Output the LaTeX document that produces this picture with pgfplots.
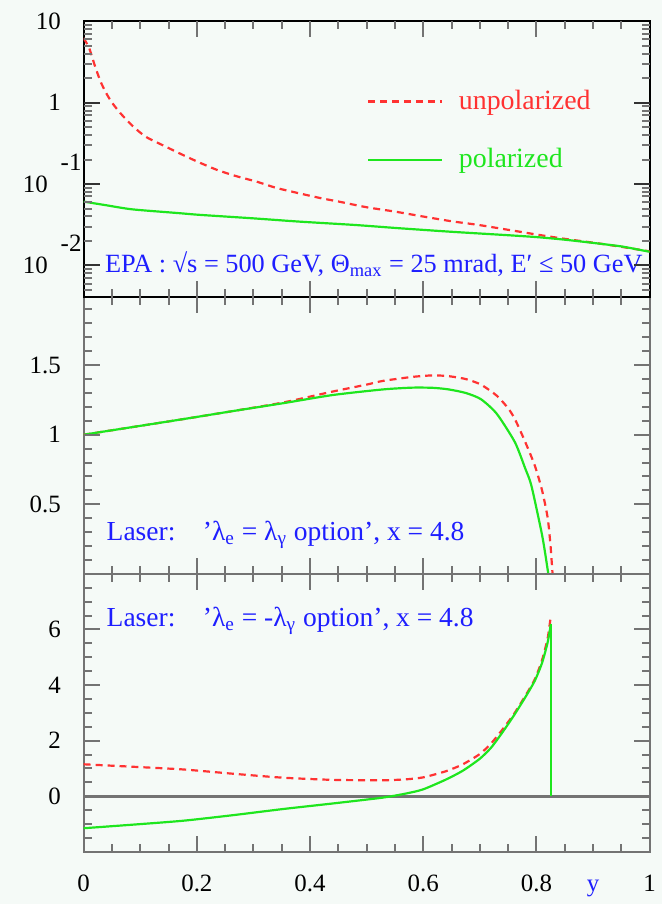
\documentclass[border=0pt]{standalone}
\usepackage{pgfplots}
\pgfplotsset{compat=1.18}
\usepackage{fontspec}
\setmainfont{Liberation Serif}
\definecolor{bgc}{RGB}{245,250,247}
\definecolor{cred}{RGB}{255,50,50}
\definecolor{cgreen}{RGB}{30,230,30}
\definecolor{cblue}{RGB}{30,30,255}
\definecolor{axgray}{RGB}{115,115,115}
\pagecolor{bgc}
\pgfplotsset{
 panel/.style={
  scale only axis, width=284pt, xmin=0, xmax=1,
  xtick={0,0.2,0.4,0.6,0.8,1},
  major tick length=0pt, minor tick length=0pt,
  axis line style={axgray, line width=1pt},
  ticklabel style={font=\fontsize{12.5}{14}\selectfont},
  yticklabel style={xshift=-8pt},
  xticklabels={},
  anchor=north west,
 },
 redc/.style={cred, line width=1.1pt, dash pattern=on 3.5pt off 2.5pt},
 greenc/.style={cgreen, line width=1.1pt},
}
\newcommand{\expl}[1]{10\hspace{6.5pt}\makebox[0pt][l]{\smash{\raisebox{11pt}{#1}}}}
\begin{document}
\begin{tikzpicture}
\path (0,0) rectangle (330.5pt,-452pt);
% middle panel
\begin{axis}[panel, at={(42pt,-149pt)}, height=139pt, ymin=0, ymax=1.99,
  ytick={0,0.5,1,1.5}, yticklabels={,0.5,1,1.5}]
\addplot[redc, smooth, tension=0.4] coordinates {
(0,1.0) (0.088,1.056) (0.176,1.112) (0.264,1.17) (0.352,1.231) (0.44,1.31)
(0.5,1.36) (0.528,1.386) (0.58,1.415) (0.616,1.426) (0.644,1.421) (0.675,1.40)
(0.702,1.36) (0.73,1.28) (0.75,1.19) (0.762,1.112) (0.78,0.95) (0.797,0.78) (0.81,0.6)
(0.82,0.40) (0.825,0.2) (0.8285,0)};
\addplot[greenc, smooth, tension=0.4] coordinates {
(0,1.0) (0.088,1.056) (0.176,1.112) (0.264,1.17) (0.352,1.226) (0.44,1.285)
(0.528,1.325) (0.58,1.338) (0.616,1.337) (0.644,1.326) (0.675,1.30)
(0.702,1.255) (0.73,1.15) (0.762,0.946) (0.78,0.76) (0.791,0.636) (0.809,0.30)
(0.815,0.16) (0.821,0)};
\node[anchor=west, text=cblue, font=\fontsize{13.8}{16}\selectfont, inner sep=0pt]
  at (rel axis cs:0.04,0.141) {Laser:\quad 'λ\textsubscript{e} = λ\textsubscript{γ} option', x = 4.8};
\end{axis}
% bottom panel
\begin{axis}[panel, at={(42pt,-288pt)}, height=139.5pt, ymin=-2, ymax=8,
  ytick={0,2,4,6}, yticklabels={0,2,4,6},
  xticklabels={0,0.2,0.4,0.6,0.8,1},
  xticklabel style={yshift=-8.3pt},
  extra x ticks={0.9}, extra x tick labels={\textcolor{cblue}{\vphantom{0}y}}]
\addplot[axgray, line width=1.6pt] coordinates {(0,0) (1,0)};
\addplot[redc, smooth, tension=0.4] coordinates {
(0,1.15) (0.088,1.06) (0.176,0.964) (0.264,0.81) (0.352,0.668) (0.44,0.59)
(0.528,0.575) (0.57,0.61) (0.6,0.68) (0.64,0.9) (0.67,1.15) (0.7,1.52) (0.72,1.9)
(0.74,2.4) (0.76,2.95) (0.78,3.6) (0.797,4.2) (0.81,4.9) (0.82,5.7) (0.8255,6.5)};
\addplot[greenc, smooth, tension=0.4] coordinates {
(0,-1.15) (0.088,-1.02) (0.176,-0.88) (0.264,-0.68) (0.352,-0.46) (0.44,-0.26)
(0.528,-0.05) (0.57,0.1) (0.6,0.25) (0.64,0.6) (0.67,0.92) (0.7,1.35) (0.72,1.75)
(0.74,2.3) (0.76,2.9) (0.78,3.55) (0.797,4.15) (0.81,4.8) (0.82,5.55) (0.8255,6.2)};
\addplot[greenc] coordinates {(0.8255,6.2) (0.8255,0)};
\node[anchor=west, text=cblue, font=\fontsize{13.8}{16}\selectfont, inner sep=0pt]
  at (rel axis cs:0.04,0.832) {Laser:\quad 'λ\textsubscript{e} = -λ\textsubscript{γ} option', x = 4.8};
\end{axis}
% top panel
\begin{axis}[panel, at={(42pt,-10.6pt)}, height=138.4pt, ymode=log,
  ymin=0.00413, ymax=10,
  ytick={0.01,0.1,1,10},
  yticklabels={\expl{-2},\expl{-1},1,10},
  axis line style={black, line width=1pt},
  legend style={at={(rel axis cs:0.50,0.765)}, anchor=north west, draw=none, fill=none,
    inner sep=0pt, row sep=14pt, column sep=6pt, font=\fontsize{14}{16}\selectfont},
  legend cell align=left,
  legend image code/.code={\draw[#1] (0pt,0pt) -- (37pt,0pt);}]
\addplot[redc, smooth, tension=0.4] coordinates {
(0,6.2) (0.01,4.6) (0.02,2.8) (0.03,1.8) (0.04,1.3) (0.05,1.0) (0.065,0.74)
(0.086,0.52) (0.11,0.38) (0.146,0.286) (0.169,0.239) (0.2,0.19) (0.236,0.149)
(0.27,0.125) (0.306,0.107) (0.34,0.09) (0.38,0.0773) (0.42,0.067) (0.451,0.061)
(0.5,0.052) (0.55,0.046) (0.6,0.040) (0.65,0.035) (0.697,0.0316) (0.75,0.0275)
(0.803,0.0239) (0.85,0.0213) (0.908,0.0188) (0.95,0.0170) (0.991,0.0153) (1.0,0.0150)};
\addlegendentry{\textcolor{cred}{unpolarized}}
\addplot[greenc, smooth, tension=0.4] coordinates {
(0,0.061) (0.04,0.055) (0.086,0.049) (0.169,0.044) (0.204,0.042) (0.3,0.038)
(0.38,0.0347) (0.48,0.0315) (0.556,0.0288) (0.65,0.026) (0.75,0.0236)
(0.803,0.0223) (0.85,0.0208) (0.9,0.019) (0.95,0.0172) (0.991,0.0152) (1,0.0148)};
\addlegendentry{\textcolor{cgreen}{polarized}}
\node[anchor=west, text=cblue, font=\fontsize{13.2}{15}\selectfont, inner sep=0pt]
  at (rel axis cs:0.037,0.119) {EPA : √s = 500 GeV, Θ\textsubscript{max} = 25 mrad, E′ ≤ 50 GeV};
\end{axis}
% tick marks (axis decoration), drawn as thin filled bars
\begin{scope}[x=1pt,y=1pt]
\foreach \t/\b in {-10.6/-149,-149/-288,-288/-427.5}{
  \foreach \v in {0.05,0.1,0.15,0.25,0.3,0.35,0.45,0.5,0.55,0.65,0.7,0.75,0.85,0.9,0.95}{
    \fill[axgray] ({41.5+284*\v},\b) rectangle ++(1,4);
    \fill[axgray] ({41.5+284*\v},\t) rectangle ++(1,-4);}
  \foreach \v in {0.2,0.4,0.6,0.8}{
    \fill[axgray] ({41.5+284*\v},\b) rectangle ++(1,8);
    \fill[axgray] ({41.5+284*\v},\t) rectangle ++(1,-8);}
}
% middle panel y ticks
\foreach \v in {0.5,1,1.5}{
  \pgfmathsetmacro\yy{-288+139*\v/1.99-0.5}
  \fill[axgray] (42,\yy) rectangle ++(8,1);
  \fill[axgray] (326,\yy) rectangle ++(-8,1);}
\foreach \v in {0.1,0.2,0.3,0.4,0.6,0.7,0.8,0.9,1.1,1.2,1.3,1.4,1.6,1.7,1.8,1.9}{
  \pgfmathsetmacro\yy{-288+139*\v/1.99-0.5}
  \fill[axgray] (42,\yy) rectangle ++(4,1);
  \fill[axgray] (326,\yy) rectangle ++(-4,1);}
% bottom panel y ticks
\foreach \v in {0,2,4,6}{
  \pgfmathsetmacro\yy{-427.5+139.5*(\v+2)/10-0.5}
  \fill[axgray] (42,\yy) rectangle ++(8,1);
  \fill[axgray] (326,\yy) rectangle ++(-8,1);}
\foreach \v in {-1.5,-1,-0.5,0.5,1,1.5,2.5,3,3.5,4.5,5,5.5,6.5,7,7.5}{
  \pgfmathsetmacro\yy{-427.5+139.5*(\v+2)/10-0.5}
  \fill[axgray] (42,\yy) rectangle ++(4,1);
  \fill[axgray] (326,\yy) rectangle ++(-4,1);}
% top panel (log) y ticks
\foreach \v in {0.01,0.1,1}{
  \pgfmathsetmacro\yy{-149+40.9*(log10(\v)+2.384)-0.5}
  \fill[black!80] (42,\yy) rectangle ++(8,1);
  \fill[black!80] (326,\yy) rectangle ++(-8,1);}
\foreach \v in {0.005,0.006,0.007,0.008,0.009,0.02,0.03,0.04,0.05,0.06,0.07,0.08,0.09,0.2,0.3,0.4,0.5,0.6,0.7,0.8,0.9,2,3,4,5,6,7,8,9}{
  \pgfmathsetmacro\yy{-149+40.9*(log10(\v)+2.384)-0.5}
  \fill[axgray] (42,\yy) rectangle ++(4,1);
  \fill[axgray] (326,\yy) rectangle ++(-4,1);}
\end{scope}
\end{tikzpicture}
\end{document}
